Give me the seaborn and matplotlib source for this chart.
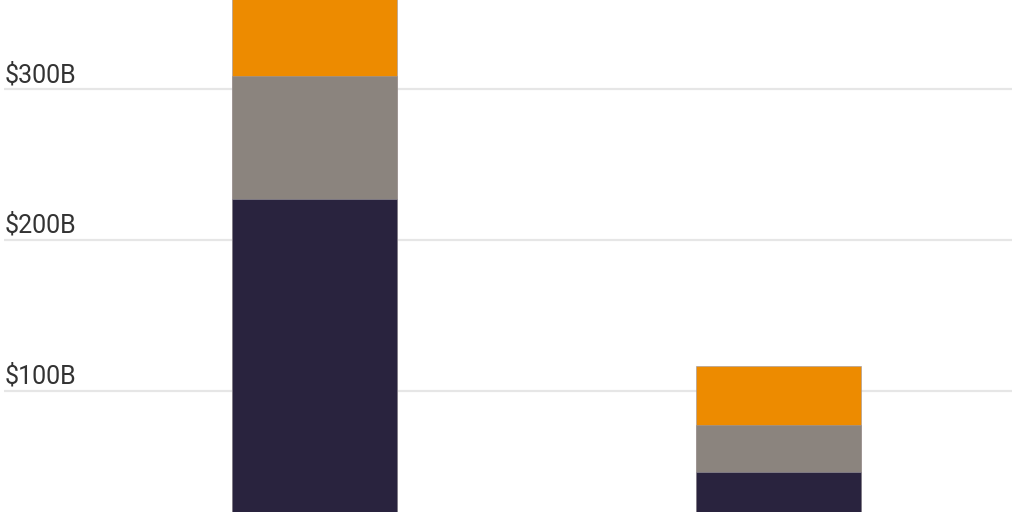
import matplotlib
matplotlib.use("Agg")
import matplotlib.pyplot as plt
import matplotlib.transforms as mtransforms
import numpy as np
import pandas as pd
import seaborn as sns

# stacked segment values, in billions of dollars
groups = ['Group A', 'Group B']
dark_vals = [227, 46]
gray_vals = [82, 31.5]
orange_vals = [86, 39]
tick_vals = [0, 100, 200, 300]
tick_labels = ['$0B', '$100B', '$200B', '$300B']

c_dark = '#29233E'
c_gray = '#8B847E'
c_orange = '#ED8B00'

sns.set_theme(style='white')
plt.rcParams['font.family'] = ['Roboto', 'DejaVu Sans']

df = pd.DataFrame({'group': groups, 'dark': dark_vals,
                   'gray': gray_vals, 'orange': orange_vals})
df['dg'] = df['dark'] + df['gray']
df['total'] = df['dg'] + df['orange']

fig = plt.figure(figsize=(10.24, 5.12), dpi=100)
ax = fig.add_axes([4 / 1024, 0, 1008 / 1024, 1])

# draw tallest cumulative first so the lower segments sit on top
for col, colr in [('total', c_orange), ('dg', c_gray), ('dark', c_dark)]:
    sns.barplot(data=df, x='group', y=col, color=colr, width=0.355,
                saturation=1, edgecolor='#9a96a0', linewidth=0.4, ax=ax,
                zorder=3)

ax.set_yticks(tick_vals)
ax.set_xlim(-0.668, 1.502)
ax.set_ylim(19.6, 359.1)
ax.yaxis.grid(True, color='#e6e6e6', linewidth=1.6, zorder=0)
ax.set_axisbelow(True)
ax.set_xticks([])
ax.set_yticklabels([])
ax.tick_params(left=False, bottom=False)
ax.set_xlabel('')
ax.set_ylabel('')
for s in ax.spines.values():
    s.set_visible(False)

trans = mtransforms.blended_transform_factory(ax.transAxes, ax.transData)
offset = mtransforms.offset_copy(trans, fig=fig, x=0, y=5, units='points')
for v, lab in zip(tick_vals, tick_labels):
    ax.text(0.001, v, lab, transform=offset, ha='left', va='baseline',
            fontsize=18, color='#333333', clip_on=False)

fig.savefig('out.png', dpi=100)
